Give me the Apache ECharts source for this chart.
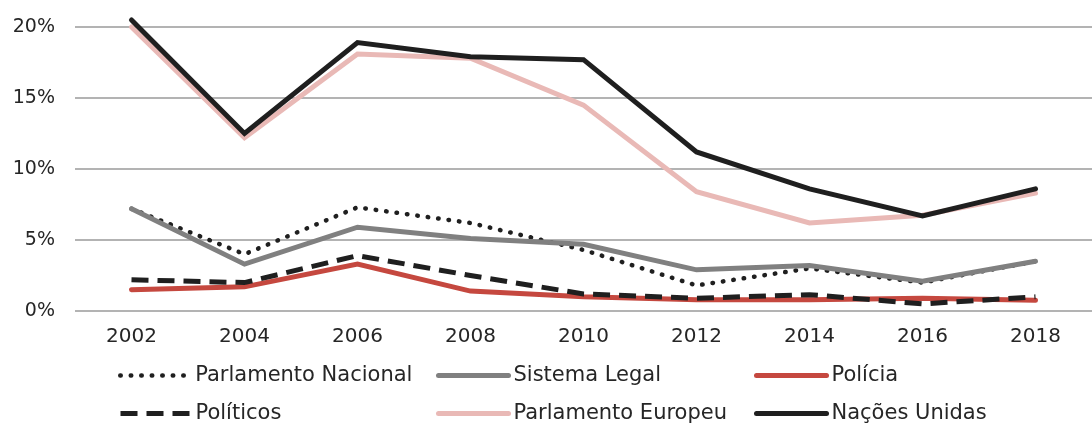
<!DOCTYPE html>
<html lang="pt">

<head>
    <meta charset="UTF-8">
    <title>Confiança nas instituições</title>
    <script src="https://cdn.jsdelivr.net/npm/echarts@6/dist/echarts.min.js"></script>
    <style>
        html, body { margin: 0; padding: 0; background: #fff; }
    </style>
</head>

<body>
    <div id="chart" style="width:1092px; height:425px"></div>
    <script>
        // anos do inquérito
        var anos = ['2002', '2004', '2006', '2008', '2010', '2012', '2014', '2016', '2018']
        var ticksY = [0, 5, 10, 15, 20]

        // valores em %
        var parlamentoNacional = [7.2, 4.0, 7.3, 6.2, 4.3, 1.8, 3.0, 2.0, 3.5]
        var sistemaLegal = [7.2, 3.3, 5.9, 5.1, 4.7, 2.9, 3.2, 2.1, 3.5]
        var policia = [1.5, 1.7, 3.3, 1.4, 1.0, 0.8, 0.8, 0.9, 0.75]
        var politicos = [2.2, 2.0, 3.9, 2.5, 1.2, 0.9, 1.15, 0.5, 1.0]
        var parlamentoEuropeu = [20.0, 12.2, 18.1, 17.8, 14.5, 8.4, 6.2, 6.75, 8.3]
        var nacoesUnidas = [20.5, 12.5, 18.9, 17.9, 17.7, 11.2, 8.6, 6.7, 8.6]

        var fonte = 'DejaVu Sans'
        var corTexto = '#262626'
        var myCharts = echarts.init(document.getElementById('chart'))

        function linha(nome, dados, cor, tipo, largura, cap) {
            return {
                name: nome,
                type: 'line',
                data: dados,
                showSymbol: false,
                symbol: 'none',
                clip: false,
                animation: false,
                lineStyle: {
                    color: cor,
                    width: largura,
                    type: tipo,
                    cap: cap || 'round',
                    join: 'miter'
                },
                itemStyle: { color: cor }
            }
        }

        // uma legenda por item, em grelha 3x2
        function legenda(nome, esquerda, centroY) {
            return {
                data: [nome],
                left: esquerda,
                top: centroY - 10,
                padding: 0,
                itemWidth: 70,
                itemHeight: 14,
                itemStyle: { opacity: 0 },
                lineStyle: { width: 'inherit', type: 'inherit', cap: 'inherit' },
                textStyle: { fontFamily: fonte, fontSize: 21, color: corTexto }
            }
        }

        var option = {
            backgroundColor: '#fff',
            grid: { left: 75, right: -13, top: 27, bottom: 114 },
            legend: [
                legenda('Parlamento Nacional', 118, 375),
                legenda('Políticos', 118, 413),
                legenda('Sistema Legal', 436, 375),
                legenda('Parlamento Europeu', 436, 413),
                legenda('Polícia', 754, 375),
                legenda('Nações Unidas', 754, 413)
            ],
            xAxis: {
                type: 'category',
                data: anos,
                boundaryGap: true,
                axisLine: { show: false },
                axisTick: { show: false },
                axisLabel: { margin: 16, fontFamily: fonte, fontSize: 20, color: corTexto }
            },
            yAxis: {
                type: 'value',
                min: ticksY[0],
                max: ticksY[ticksY.length - 1],
                interval: 5,
                axisLine: { show: false },
                axisTick: { show: false },
                splitLine: { lineStyle: { color: '#b3b3b3', width: 2 } },
                axisLabel: {
                    margin: 20,
                    fontFamily: fonte,
                    fontSize: 19,
                    color: corTexto,
                    formatter: '{value}%'
                }
            },
            series: [
                linha('Parlamento Nacional', parlamentoNacional, '#1f1f1f', [0.5, 10], 4.5, 'round'),
                linha('Sistema Legal', sistemaLegal, '#808080', 'solid', 5),
                linha('Polícia', policia, '#c5483f', 'solid', 5),
                linha('Políticos', politicos, '#1f1f1f', [17, 9], 5, 'butt'),
                linha('Parlamento Europeu', parlamentoEuropeu, '#e9b9b6', 'solid', 5),
                linha('Nações Unidas', nacoesUnidas, '#1f1f1f', 'solid', 5)
            ]
        }
        // europeu por baixo das nações unidas
        option.series[4].z = 2
        option.series[5].z = 3
        myCharts.setOption(option)
    </script>
</body>

</html>
